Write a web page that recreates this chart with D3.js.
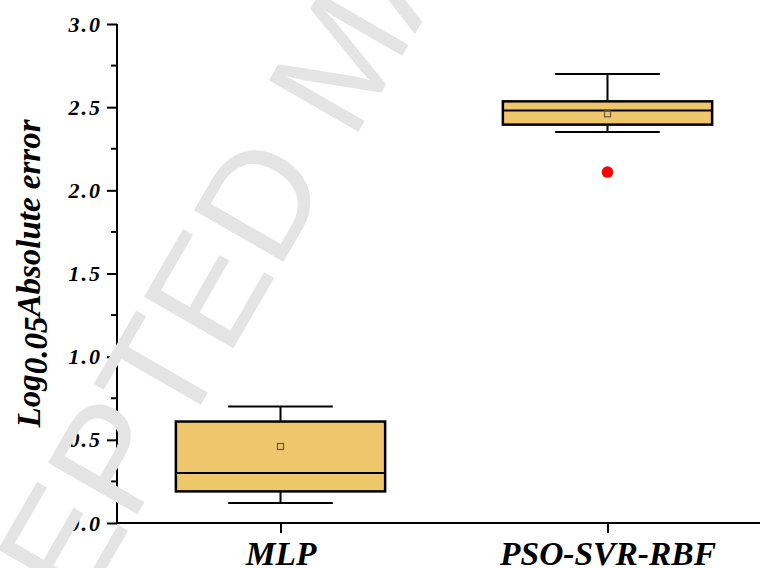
<!DOCTYPE html>
<html>
<head>
<meta charset="utf-8">
<script src="https://cdn.jsdelivr.net/npm/d3@7"></script>
<style>
  body { margin: 0; background: #fff; }
  svg { display: block; }
  .lbl { font-family: "Liberation Serif", "Times New Roman", serif; font-weight: bold; font-style: italic; }
</style>
</head>
<body>
<svg id="chart" width="760" height="568"></svg>
<script>
// box statistics
const categories  = ["MLP", "PSO-SVR-RBF"];
const whiskerLow  = [0.12, 2.35];
const q1          = [0.19, 2.395];
const median      = [0.30, 2.48];
const q3          = [0.61, 2.535];
const whiskerHigh = [0.70, 2.70];
const means       = [0.46, 2.46];
const outliers    = [1.63, 2.11];
const yTicks      = [0, 0.5, 1.0, 1.5, 2.0, 2.5, 3.0];
const yMinor      = [0.25, 0.75, 1.25, 1.75, 2.25, 2.75];

const svg = d3.select("#chart");
const W = 760, H = 568;
const plotLeft = 117, plotBottom = 523, plotTop = 24;

const x = d3.scalePoint().domain(categories).range([plotLeft, plotLeft + 654]).padding(0.5);
const y = d3.scaleLinear().domain([0, 3]).range([plotBottom, plotTop]);
const step = x.step();
const boxW = step * 0.64, capW = step * 0.32;

const fill = "#EEC66C";

// boxes
const g = svg.append("g");
categories.forEach((c, i) => {
    const cx = x(c);
    // whisker stems
    g.append("line").attr("x1", cx).attr("x2", cx)
        .attr("y1", y(whiskerHigh[i])).attr("y2", y(q3[i]))
        .attr("stroke", "#000").attr("stroke-width", 2);
    g.append("line").attr("x1", cx).attr("x2", cx)
        .attr("y1", y(q1[i])).attr("y2", y(whiskerLow[i]))
        .attr("stroke", "#000").attr("stroke-width", 2);
    // caps
    [whiskerHigh[i], whiskerLow[i]].forEach(v => {
        g.append("line").attr("x1", cx - capW / 2).attr("x2", cx + capW / 2)
            .attr("y1", y(v)).attr("y2", y(v))
            .attr("stroke", "#000").attr("stroke-width", 2);
    });
    // box
    g.append("rect")
        .attr("x", cx - boxW / 2).attr("width", boxW)
        .attr("y", y(q3[i])).attr("height", y(q1[i]) - y(q3[i]))
        .attr("fill", fill).attr("stroke", "#000").attr("stroke-width", 2.5);
    // median
    g.append("line").attr("x1", cx - boxW / 2).attr("x2", cx + boxW / 2)
        .attr("y1", y(median[i])).attr("y2", y(median[i]))
        .attr("stroke", "#000").attr("stroke-width", 2);
    // mean marker
    g.append("rect")
        .attr("x", cx - 3).attr("y", y(means[i]) - 3)
        .attr("width", 6).attr("height", 6)
        .attr("fill", "none").attr("stroke", "#6b5a3a").attr("stroke-width", 1.2);
    // outlier
    g.append("circle").attr("cx", cx).attr("cy", y(outliers[i])).attr("r", 5.8)
        .attr("fill", "#ff0000");
});

// y axis
const yAxis = svg.append("g").attr("transform", `translate(${plotLeft},0)`)
    .call(d3.axisLeft(y).tickValues(yTicks).tickSize(10).tickPadding(5)
        .tickFormat(d3.format(".1f")));
yAxis.select(".domain").attr("stroke-width", 2).attr("d", `M0,${plotBottom}V${plotTop}`);
yAxis.selectAll(".tick line").attr("stroke-width", 2);
yAxis.selectAll(".tick text").attr("class", "lbl").attr("font-size", 22)
    .attr("letter-spacing", 2).attr("fill", "#000");
yAxis.selectAll(".minor").data(yMinor).enter().append("line")
    .attr("class", "minor")
    .attr("x1", -6).attr("x2", 0)
    .attr("y1", d => y(d)).attr("y2", d => y(d))
    .attr("stroke", "#000").attr("stroke-width", 2);

// x axis
const xAxis = svg.append("g").attr("transform", `translate(0,${plotBottom})`)
    .call(d3.axisBottom(x).tickSize(10).tickPadding(8));
xAxis.select(".domain").attr("stroke-width", 2).attr("d", `M${plotLeft},0H${W}`);
xAxis.selectAll(".tick line").attr("stroke-width", 2);
xAxis.selectAll(".tick text").attr("class", "lbl").attr("font-size", 33.5).attr("fill", "#000");

// y title
const yt = svg.append("text").attr("class", "lbl")
    .attr("transform", `translate(40,${(plotTop + plotBottom) / 2}) rotate(-90)`)
    .attr("text-anchor", "middle").attr("font-size", 33).attr("fill", "#000");
yt.append("tspan").text("Log");
yt.append("tspan").attr("dy", 7).text("0.05");
yt.append("tspan").attr("dy", -7).text("Absolute error");

// watermark
svg.append("text")
    .attr("transform", "translate(-77,886) rotate(-60)")
    .attr("font-family", "Liberation Sans, Arial, sans-serif")
    .attr("font-size", 150)
    .attr("fill", "#e4e4e4")
    .text("ACCEPTED MANUSCRIPT");
</script>
</body>
</html>
